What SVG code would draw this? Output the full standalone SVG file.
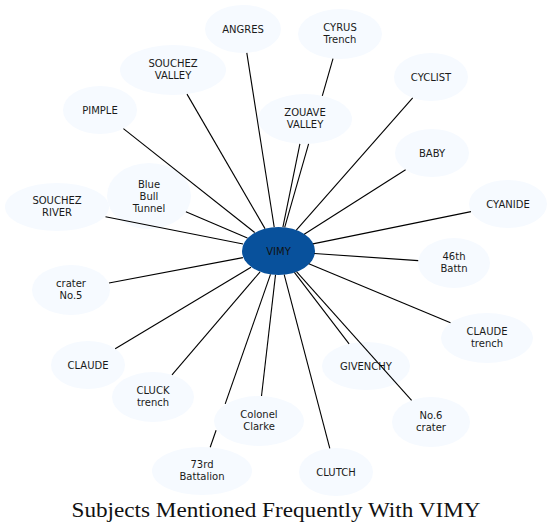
<svg xmlns="http://www.w3.org/2000/svg" width="552" height="532" viewBox="0 0 552 532">
<style>
.n ellipse{fill:#f6faff;stroke:none}
.n text{font-family:"DejaVu Sans",sans-serif;font-size:10px;fill:#1a1a1a;text-anchor:middle}
#vimy ellipse{fill:#08519c}
#vimy text{fill:#111}
#edges line{stroke:#000;stroke-width:1.1;fill:none}
.title{font-family:"Liberation Serif",serif;font-size:21px;fill:#111;text-anchor:middle}
</style>
<rect width="552" height="532" fill="#fff"/>
<g id="nodes">
<g id="angres" class="n"><ellipse cx="243" cy="29" rx="38" ry="24"/><text x="243" y="32.5">ANGRES</text></g>
<g id="cyrus" class="n"><ellipse cx="340" cy="34" rx="42" ry="25"/><text x="340" y="31">CYRUS<tspan x="340" y="43">Trench</tspan></text></g>
<g id="souchez-valley" class="n"><ellipse cx="173" cy="70" rx="53" ry="25"/><text x="173" y="67">SOUCHEZ<tspan x="173" y="79">VALLEY</tspan></text></g>
<g id="cyclist" class="n"><ellipse cx="431" cy="77" rx="37" ry="24"/><text x="431" y="80.5">CYCLIST</text></g>
<g id="pimple" class="n"><ellipse cx="100" cy="110" rx="37" ry="24"/><text x="100" y="113.5">PIMPLE</text></g>
<g id="zouave" class="n"><ellipse cx="305" cy="119" rx="47" ry="25"/><text x="305" y="116">ZOUAVE<tspan x="305" y="128">VALLEY</tspan></text></g>
<g id="baby" class="n"><ellipse cx="432" cy="153" rx="37" ry="24"/><text x="432" y="156.5">BABY</text></g>
<g id="bluebull" class="n"><ellipse cx="149" cy="196" rx="42" ry="33"/><text x="149" y="187.5">Blue<tspan x="149" y="199.5">Bull</tspan><tspan x="149" y="211.5">Tunnel</tspan></text></g>
<g id="souchez-river" class="n"><ellipse cx="57" cy="207" rx="52" ry="24"/><text x="57" y="204">SOUCHEZ<tspan x="57" y="216">RIVER</tspan></text></g>
<g id="cyanide" class="n"><ellipse cx="508" cy="204" rx="39" ry="24"/><text x="508" y="207.5">CYANIDE</text></g>
<g id="vimy" class="n"><ellipse cx="278.5" cy="251" rx="36.5" ry="24"/><text x="278.5" y="254.5">VIMY</text></g>
<g id="battn46" class="n"><ellipse cx="454" cy="263" rx="36" ry="25"/><text x="454" y="260">46th<tspan x="454" y="272">Battn</tspan></text></g>
<g id="crater5" class="n"><ellipse cx="71" cy="290" rx="39" ry="25"/><text x="71" y="287">crater<tspan x="71" y="299">No.5</tspan></text></g>
<g id="claude-trench" class="n"><ellipse cx="487" cy="338" rx="46" ry="25"/><text x="487" y="335">CLAUDE<tspan x="487" y="347">trench</tspan></text></g>
<g id="claude" class="n"><ellipse cx="88" cy="365" rx="37" ry="24"/><text x="88" y="368.5">CLAUDE</text></g>
<g id="givenchy" class="n"><ellipse cx="366" cy="366" rx="44" ry="24"/><text x="366" y="369.5">GIVENCHY</text></g>
<g id="cluck" class="n"><ellipse cx="153" cy="397" rx="41" ry="25"/><text x="153" y="394">CLUCK<tspan x="153" y="406">trench</tspan></text></g>
<g id="clarke" class="n"><ellipse cx="259" cy="421" rx="45" ry="25"/><text x="259" y="418">Colonel<tspan x="259" y="430">Clarke</tspan></text></g>
<g id="crater6" class="n"><ellipse cx="431" cy="422" rx="39" ry="25"/><text x="431" y="419">No.6<tspan x="431" y="431">crater</tspan></text></g>
<g id="batt73" class="n"><ellipse cx="202" cy="471" rx="50" ry="24"/><text x="202" y="468">73rd<tspan x="202" y="480">Battalion</tspan></text></g>
<g id="clutch" class="n"><ellipse cx="336" cy="472" rx="37" ry="24"/><text x="336" y="475.5">CLUTCH</text></g>
</g>
<g id="edges">
<line x1="274.2" y1="227.1" x2="246.8" y2="52.9"/>
<line x1="284.7" y1="227.4" x2="308.6" y2="143.9"/>
<line x1="322.3" y1="95.8" x2="333.0" y2="58.6"/>
<line x1="282.9" y1="227.2" x2="299.9" y2="143.9"/>
<line x1="265.0" y1="228.6" x2="187.0" y2="94.1"/>
<line x1="254.7" y1="232.5" x2="123.4" y2="128.6"/>
<line x1="247.4" y1="237.9" x2="185.9" y2="211.7"/>
<line x1="243.1" y1="244.0" x2="105.5" y2="216.7"/>
<line x1="242.9" y1="257.6" x2="109" y2="283.0"/>
<line x1="251.0" y1="267.2" x2="115.2" y2="348.7"/>
<line x1="260.1" y1="271.9" x2="172.0" y2="374.8"/>
<line x1="270.5" y1="274.4" x2="225.2" y2="403.9"/>
<line x1="216.1" y1="430.3" x2="210.2" y2="447.3"/>
<line x1="275.5" y1="274.9" x2="261.5" y2="396.0"/>
<line x1="284.2" y1="274.7" x2="329.8" y2="448.3"/>
<line x1="294.4" y1="272.4" x2="349.1" y2="343.9"/>
<line x1="296.5" y1="271.7" x2="411.6" y2="400.3"/>
<line x1="308.8" y1="263.8" x2="450.5" y2="322.8"/>
<line x1="314.3" y1="253.5" x2="418.2" y2="260.6"/>
<line x1="312.9" y1="243.9" x2="471.0" y2="211.6"/>
<line x1="304.2" y1="234.3" x2="405.6" y2="169.8"/>
<line x1="296.3" y1="230.2" x2="412.7" y2="97.9"/>
</g>
<text class="title" x="276" y="517" textLength="409" lengthAdjust="spacingAndGlyphs">Subjects Mentioned Frequently With VIMY</text>
</svg>
